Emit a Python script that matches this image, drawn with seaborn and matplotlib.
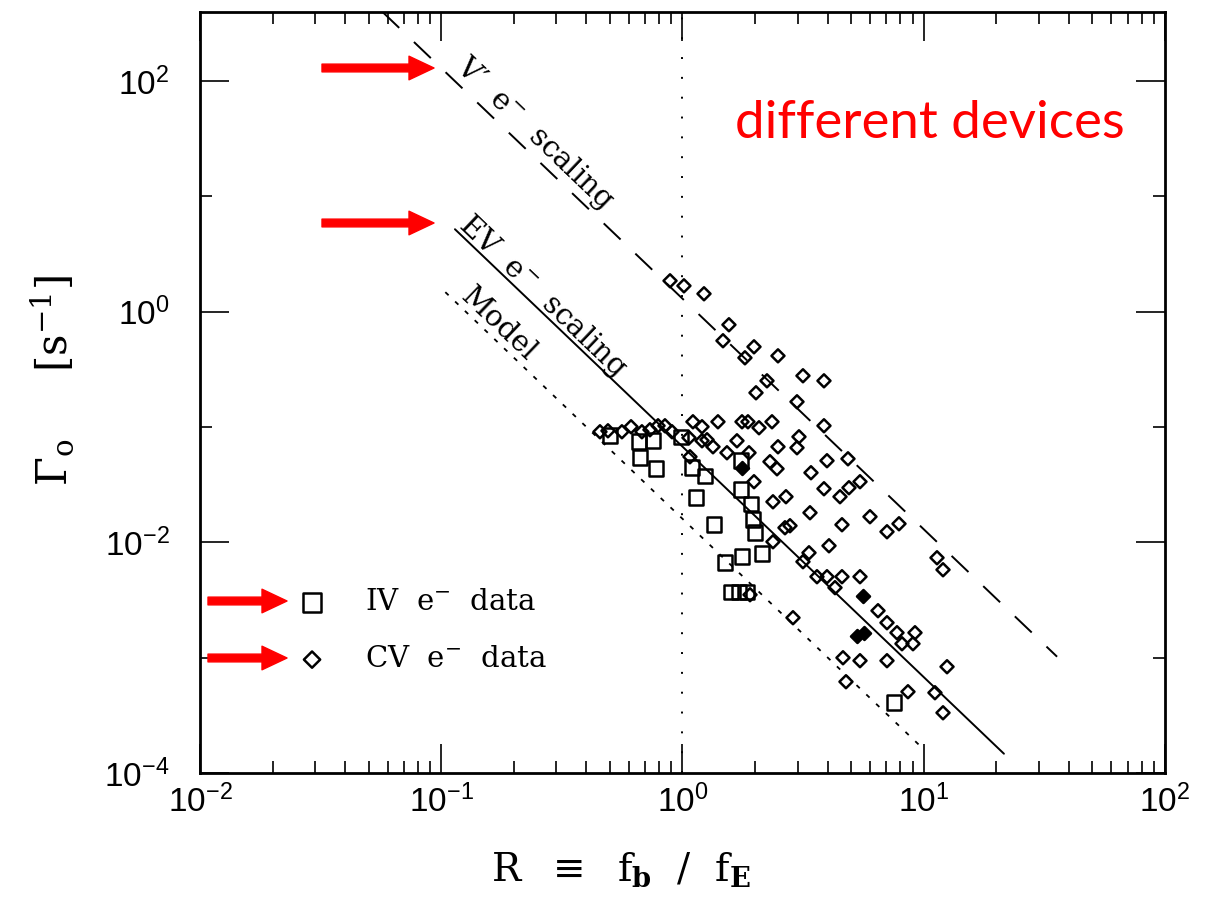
import numpy as np
import pandas as pd
import matplotlib
matplotlib.use("Agg")
import matplotlib.pyplot as plt
from matplotlib.ticker import FixedLocator, LogLocator, FuncFormatter, NullFormatter
import seaborn as sns

# IV e- data (open squares)
iv_R = [0.500, 0.660, 0.755, 0.666, 0.776, 0.986, 1.095, 1.240, 1.137, 1.351, 1.748,
        1.922, 1.748, 1.960, 1.998, 2.136, 1.765, 1.501, 1.589, 1.715, 1.851, 7.53]
iv_G = [0.0841, 0.0746, 0.0761, 0.0542, 0.0435, 0.0824, 0.0444, 0.0378, 0.0244, 0.01423, 0.0286,
        0.0216, 0.0511, 0.01572, 0.01213, 0.00797, 0.00751, 0.00666, 0.00373, 0.00373, 0.00373, 0.000407]

# CV e- data (open diamonds)
cv_R = [0.888, 1.014, 1.228, 1.558, 1.472, 1.979, 1.815, 2.488, 2.240, 2.017,
        3.158, 3.859, 2.983, 3.859, 4.853, 5.443, 4.899, 4.497, 5.987, 7.897,
        7.042, 3.972, 3.859, 3.409, 3.377, 2.790, 2.660, 4.583, 4.049, 3.040,
        2.983, 2.488, 2.465, 2.305, 1.979, 2.685, 2.372, 2.350, 2.076, 1.868,
        1.765, 1.682, 1.403, 1.105, 1.205, 1.205, 1.338, 1.529, 1.887, 1.074,
        2.372, 3.345, 3.158, 3.610, 3.972, 4.583, 5.443, 4.287, 6.463, 7.042,
        7.747, 9.199, 8.125, 9.025, 4.627, 5.443, 7.042, 4.761, 2.871, 1.905,
        11.35, 12.02, 12.49, 8.603, 11.13, 12.02, 0.455, 0.491, 0.561, 0.612,
        0.679, 0.733, 0.792, 0.846, 0.905, 1.064, 1.264]
cv_G = [1.857, 1.680, 1.433, 0.772, 0.561, 0.497, 0.399, 0.415, 0.252, 0.1984,
        0.2787, 0.252, 0.1658, 0.1027, 0.0531, 0.0336, 0.0298, 0.0249, 0.0167, 0.01451,
        0.01237, 0.0511, 0.0292, 0.0402, 0.01808, 0.01395, 0.01340, 0.01423, 0.00935, 0.0824,
        0.0662, 0.0675, 0.0435, 0.0501, 0.0336, 0.0249, 0.0225, 0.1112, 0.0987, 0.1112,
        0.1112, 0.0761, 0.1112, 0.1112, 0.1007, 0.0761, 0.0675, 0.0599, 0.0599, 0.0553,
        0.01013, 0.00813, 0.00680, 0.00504, 0.00504, 0.00504, 0.00504, 0.00405, 0.002556, 0.002011,
        0.001647, 0.001647, 0.001322, 0.001322, 0.000999, 0.000942, 0.000942, 0.000619, 0.002222, 0.003517,
        0.00736, 0.00579, 0.000835, 0.000507, 0.000497, 0.000333, 0.0911, 0.0929, 0.0911, 0.1007,
        0.0911, 0.0948, 0.1027, 0.1027, 0.0911, 0.0808, 0.0777]

# CV points that show up filled
cvf_R = [1.765, 5.60, 5.29, 5.66]
cvf_G = [0.0444, 0.00345, 0.00155, 0.00165]

# scaling lines (end points)
vp_R = [0.057, 35.7]
vp_G = [400.0, 0.00102]
ev_R = [0.114, 21.5]
ev_G = [5.2, 1.47e-4]
model_R = [0.104, 9.83]
model_G = [1.48, 1.66e-4]

x_ticks = [1e-2, 1e-1, 1e0, 1e1, 1e2]
y_ticks = [1e-4, 1e-2, 1e0, 1e2]
y_minor = [1e-3, 1e-1, 1e1]

sns.set_style("ticks")
plt.rcParams["font.family"] = ["DejaVu Serif"]
plt.rcParams["text.color"] = "black"
plt.rcParams["axes.labelcolor"] = "black"
plt.rcParams["xtick.color"] = "black"
plt.rcParams["ytick.color"] = "black"
plt.rcParams["mathtext.fontset"] = "custom"
plt.rcParams["mathtext.rm"] = "DejaVu Serif"
plt.rcParams["mathtext.it"] = "DejaVu Serif:italic"
plt.rcParams["mathtext.bf"] = "DejaVu Serif:bold"
plt.rcParams["mathtext.sf"] = "Liberation Sans"

fig = plt.figure(figsize=(12.09, 9.09), dpi=100)
ax = fig.add_axes([0.1654, 0.1496, 0.7982, 0.8372])
ax.set_xscale("log")
ax.set_yscale("log")

# lines
sns.lineplot(x=vp_R, y=vp_G, ax=ax, color="black", lw=1.4, linestyle=(0, (12, 10.5)),
             estimator=None, sort=False)
sns.lineplot(x=ev_R, y=ev_G, ax=ax, color="black", lw=1.4, estimator=None, sort=False)
sns.lineplot(x=model_R, y=model_G, ax=ax, color="black", lw=1.3, linestyle=(0, (2.5, 5)),
             estimator=None, sort=False)
ax.axvline(1.0, color="black", lw=1.4, linestyle=(0, (1, 9.2)))

# data
iv_df = pd.DataFrame({"R": iv_R, "G": iv_G})
cv_df = pd.DataFrame({"R": cv_R, "G": cv_G})
cvf_df = pd.DataFrame({"R": cvf_R, "G": cvf_G})

sns.scatterplot(data=iv_df, x="R", y="G", marker="s", s=110, color="black", linewidth=1.8,
                ax=ax, zorder=4)
sq = ax.collections[-1]
sq.set_facecolor("none")
sq.set_edgecolor("black")

sns.scatterplot(data=cv_df, x="R", y="G", marker="D", s=44, color="black", linewidth=1.8,
                ax=ax, zorder=4)
di = ax.collections[-1]
di.set_facecolor("none")
di.set_edgecolor("black")

sns.scatterplot(data=cvf_df, x="R", y="G", marker="D", s=44, color="black", linewidth=1.8,
                ax=ax, zorder=4)
ax.collections[-1].set_edgecolor("black")

ax.set_xlim(1e-2, 1e2)
ax.set_ylim(1e-4, 10 ** 2.6)

# ticks
fmt = FuncFormatter(lambda v, p: r"$\mathsf{10^{%d}}$" % round(np.log10(v)))
ax.xaxis.set_major_locator(FixedLocator(x_ticks))
ax.xaxis.set_minor_locator(LogLocator(base=10, subs=np.arange(2, 10), numticks=20))
ax.xaxis.set_minor_formatter(NullFormatter())
ax.xaxis.set_major_formatter(fmt)
ax.yaxis.set_major_locator(FixedLocator(y_ticks))
ax.yaxis.set_minor_locator(FixedLocator(y_minor))
ax.yaxis.set_minor_formatter(NullFormatter())
ax.yaxis.set_major_formatter(fmt)
ax.tick_params(which="both", direction="in", top=True, right=True, width=1.2, color="black")
ax.tick_params(which="major", length=21, labelsize=24, labelcolor="black")
ax.tick_params(which="minor", length=8.5)
ax.tick_params(axis="x", which="major", pad=8)
ax.tick_params(axis="y", which="major", pad=22)
for sp in ax.spines.values():
    sp.set_linewidth(2)
    sp.set_color("black")

# axis labels
ax.set_xlabel(r"R  $\equiv$  f$_\mathbf{b}$  /  f$_\mathbf{E}$", fontsize=28, va="center")
ax.xaxis.set_label_coords(0.436, -0.127)
ax.set_ylabel(r"$\Gamma_\mathrm{o}$     [s$^{-1}$]", fontsize=30, va="center")
ax.yaxis.set_label_coords(-0.153, 0.516)

# line annotations
rot = -43.7
ax.text(0.114, 130.5, "V\u2032  e$^{-}$  scaling", fontsize=21, rotation=rot,
        rotation_mode="anchor", ha="left", va="baseline")
ax.text(0.1173, 5.57, "EV  e$^{-}$  scaling", fontsize=21, rotation=rot,
        rotation_mode="anchor", ha="left", va="baseline")
ax.text(0.1196, 1.32, "Model", fontsize=21, rotation=rot,
        rotation_mode="anchor", ha="left", va="baseline")

# legend
ax.legend(handles=[sq, di], labels=["IV  e$^{-}$  data", "CV  e$^{-}$  data"],
          loc="upper left", bbox_to_anchor=(0.098, 0.243), frameon=False, fontsize=21,
          handlelength=1.2, handletextpad=1.2, labelspacing=1.0, borderpad=0, borderaxespad=0,
          markerscale=1.25)

# red overlay annotations
arrow = dict(arrowstyle="simple,head_width=0.85,head_length=0.9,tail_width=0.28",
             color="red", mutation_scale=20, shrinkA=0, shrinkB=0)
for y, x0, x1 in [(841, 322, 434), (686, 322, 434), (308, 208, 287), (251, 208, 287)]:
    ax.annotate("", xy=(x1, y), xytext=(x0, y), xycoords="figure pixels",
                textcoords="figure pixels", arrowprops=arrow)
fig.text(735 / 1209, 1 - 138 / 909, "different devices", color="red", fontsize=38,
         family="Lato", ha="left", va="baseline")

fig.savefig("out.png", dpi=100)
